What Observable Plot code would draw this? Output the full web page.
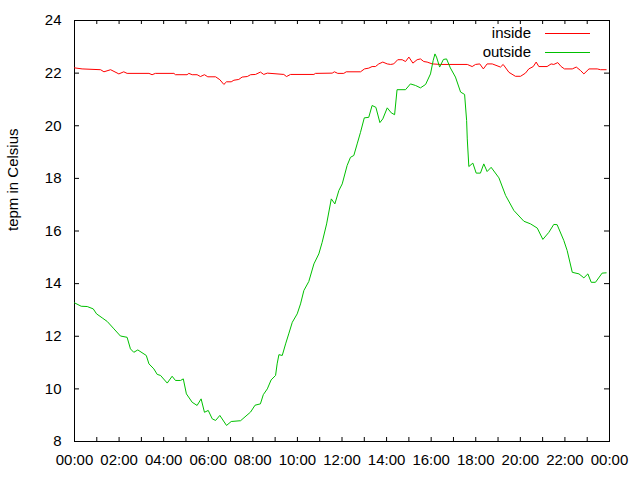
<!DOCTYPE html>
<html>
<head>
<meta charset="utf-8">
<script src="https://cdn.jsdelivr.net/npm/d3@7"></script>
<script src="https://cdn.jsdelivr.net/npm/@observablehq/plot@0.6"></script>
<style>
  html, body { margin: 0; padding: 0; background: white; }
  #chart svg { display: block; }
</style>
</head>
<body>
<div id="chart"></div>
<script>
// ---- data (hours since midnight, temperature in °C) ----
const insideHours = [0.00,0.34,1.17,1.32,1.62,1.99,2.21,2.36,3.34,3.48,3.63,4.46,4.53,5.05,5.13,5.28,5.50,5.65,5.83,5.98,6.33,6.52,6.70,6.82,7.03,7.15,7.37,7.52,7.75,7.90,8.12,8.34,8.49,8.65,9.39,9.51,9.69,10.74,10.81,11.56,11.66,11.81,12.08,12.19,12.83,13.01,13.20,13.35,13.50,13.65,13.83,14.03,14.18,14.32,14.50,14.70,14.85,15.00,15.18,15.37,15.52,15.67,15.82,16.05,16.42,17.62,17.84,17.99,18.18,18.34,18.51,18.74,19.11,19.23,19.49,19.78,20.01,20.23,20.38,20.58,20.71,20.83,21.20,21.38,21.50,21.68,21.83,21.98,22.33,22.51,22.70,22.85,23.08,23.45,23.60,23.85];
const insideTemps = [22.20,22.16,22.13,22.05,22.13,21.97,22.05,21.99,21.99,21.94,21.99,21.99,21.94,21.94,21.99,21.94,21.94,21.87,21.94,21.86,21.86,21.75,21.57,21.67,21.67,21.73,21.76,21.85,21.87,21.94,21.95,22.04,21.95,22.00,21.95,21.87,21.95,21.95,21.99,22.00,22.05,21.99,21.99,22.05,22.05,22.16,22.19,22.25,22.25,22.35,22.42,22.35,22.33,22.35,22.51,22.51,22.44,22.61,22.38,22.51,22.54,22.44,22.42,22.35,22.33,22.33,22.25,22.33,22.35,22.16,22.35,22.35,22.23,22.33,22.03,21.88,21.88,22.00,22.16,22.25,22.42,22.25,22.25,22.35,22.33,22.40,22.25,22.16,22.16,22.23,22.10,21.97,22.16,22.16,22.13,22.13];

const outsideHours = [0.00,0.30,0.57,0.84,0.99,1.24,1.47,1.77,2.06,2.36,2.51,2.66,2.84,3.22,3.34,3.56,3.71,3.86,4.16,4.38,4.53,4.76,4.88,5.02,5.28,5.50,5.68,5.83,6.00,6.18,6.33,6.52,6.82,7.03,7.45,7.90,8.10,8.34,8.47,8.65,8.82,9.02,9.09,9.17,9.32,9.47,9.61,9.77,9.99,10.14,10.29,10.51,10.74,10.96,11.11,11.31,11.52,11.68,11.86,12.01,12.23,12.38,12.53,12.68,12.83,13.00,13.20,13.35,13.52,13.70,13.83,14.03,14.21,14.36,14.47,14.85,15.07,15.30,15.52,15.75,15.97,16.09,16.17,16.24,16.38,16.55,16.69,16.86,17.09,17.32,17.50,17.59,17.62,17.69,17.87,18.02,18.21,18.36,18.51,18.69,19.04,19.34,19.71,20.16,20.46,20.76,21.01,21.28,21.50,21.65,21.95,22.10,22.33,22.63,22.85,23.03,23.18,23.37,23.67,23.85];
const outsideTemps = [13.27,13.14,13.13,13.04,12.85,12.70,12.56,12.28,12.01,11.96,11.52,11.39,11.48,11.27,10.95,10.76,10.55,10.51,10.22,10.48,10.32,10.32,10.38,9.81,9.49,9.37,9.62,9.11,9.18,8.86,8.80,8.99,8.61,8.76,8.79,9.12,9.38,9.43,9.78,10.00,10.34,10.51,10.95,11.30,11.27,11.71,12.09,12.53,12.85,13.23,13.74,14.08,14.75,15.13,15.57,16.27,17.22,17.03,17.54,17.79,18.49,18.80,18.87,19.31,19.75,20.30,20.32,20.77,20.70,20.12,20.26,20.68,20.49,20.42,21.37,21.37,21.59,21.53,21.44,21.57,21.97,22.48,22.73,22.61,22.23,22.52,22.54,22.20,21.85,21.28,21.19,20.20,19.50,18.45,18.58,18.20,18.20,18.55,18.26,18.42,18.02,17.35,16.78,16.37,16.27,16.11,15.68,15.95,16.25,16.24,15.64,15.26,14.43,14.37,14.22,14.37,14.05,14.05,14.40,14.41];

const seriesNames = ["inside", "outside"];
const seriesColors = ["#ff0000", "#00c000"];

const xTickHours = [0,1,2,3,4,5,6,7,8,9,10,11,12,13,14,15,16,17,18,19,20,21,22,23,24];
const xLabelHours = [0,2,4,6,8,10,12,14,16,18,20,22,24];
const yTicks = [8,10,12,14,16,18,20,22,24];
const yLabel = "tepm in Celsius";

// ---- build table ----
const rows = [
  ...insideHours.map((h, i) => ({series: seriesNames[0], hour: h, temp: insideTemps[i]})),
  ...outsideHours.map((h, i) => ({series: seriesNames[1], hour: h, temp: outsideTemps[i]}))
];

const W = 640, H = 480;
const mL = 74, mR = 31, mT = 20, mB = 39;
const plotW = W - mL - mR, plotH = H - mT - mB;
const fmtHour = h => String(h % 24).padStart(2, "0") + ":00";

const chart = Plot.plot({
  width: W,
  height: H,
  marginLeft: mL, marginRight: mR, marginTop: mT, marginBottom: mB,
  style: {fontFamily: "'Liberation Sans', Arial, sans-serif", fontSize: "15px", background: "white", color: "black"},
  x: {domain: [0, 24]},
  y: {domain: [8, 24]},
  color: {domain: seriesNames, range: seriesColors},
  marks: [
    Plot.frame({stroke: "black"}),
    // inward ticks, mirrored on all four sides
    Plot.tickX(xTickHours, {x: d => d, insetTop: plotH - 4, stroke: "black"}),
    Plot.tickX(xTickHours, {x: d => d, insetBottom: plotH - 4, stroke: "black"}),
    Plot.tickY(yTicks, {y: d => d, insetRight: plotW - 5, stroke: "black"}),
    Plot.tickY(yTicks, {y: d => d, insetLeft: plotW - 5, stroke: "black"}),
    Plot.axisX({ticks: xLabelHours, tickSize: 0, tickPadding: 13, tickFormat: fmtHour, label: null, fontSize: 15}),
    Plot.axisY({ticks: yTicks, tickSize: 0, tickPadding: 13, label: null, fontSize: 15}),
    Plot.text([yLabel], {frameAnchor: "left", dx: -61, rotate: -90, text: d => d, fontSize: 15, fill: "black"}),
    Plot.line(rows, {x: "hour", y: "temp", stroke: "series", z: "series", strokeWidth: 1})
  ]
});

// legend inside the top-right corner (gnuplot style)
const svg = d3.select(chart);
const leg = svg.append("g").attr("font-family", "'Liberation Sans', Arial, sans-serif").attr("font-size", 15);
seriesNames.forEach((name, i) => {
  const yc = 33 + i * 19;
  leg.append("text").attr("x", 531).attr("y", yc).attr("dy", "0.36em").attr("text-anchor", "end").attr("fill", "black").text(name);
  leg.append("line").attr("x1", 545).attr("x2", 590).attr("y1", yc + 0.5).attr("y2", yc + 0.5).attr("stroke", seriesColors[i]).attr("stroke-width", 1);
});

document.getElementById("chart").appendChild(chart);
</script>
</body>
</html>
